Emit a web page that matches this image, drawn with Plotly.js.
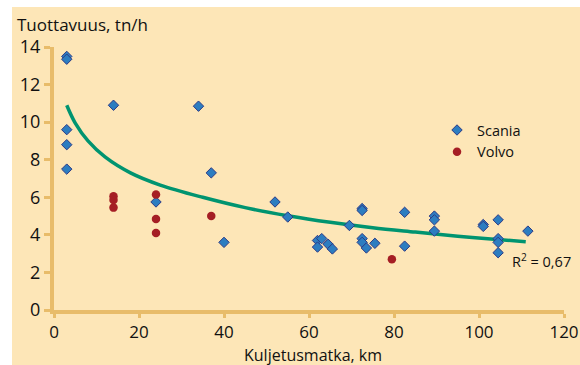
<!DOCTYPE html>
<html>
<head>
<meta charset="utf-8">
<script src="https://cdn.plot.ly/plotly-3.0.1.min.js"></script>
<style>
html,body{margin:0;padding:0;background:#fff;}
#chart{width:580px;height:365px;}
</style>
</head>
<body>
<div id="chart"></div>
<script>
// Scania (diamonds)
const scaniaX = [3, 3, 3, 3, 3, 14, 34, 37, 24, 40, 52, 55, 62, 63, 62, 64.5, 65.5, 69.5, 72.5, 72.5, 72.5, 72.5, 73.5, 75.5, 82.5, 82.5, 89.5, 89.5, 89.5, 101, 101, 104.5, 104.5, 104.5, 104.5, 111.5];
const scaniaY = [13.5, 13.35, 9.6, 8.8, 7.5, 10.9, 10.85, 7.3, 5.75, 3.6, 5.75, 4.95, 3.7, 3.8, 3.35, 3.5, 3.25, 4.5, 5.4, 5.3, 3.8, 3.6, 3.3, 3.55, 5.2, 3.4, 5.0, 4.8, 4.2, 4.55, 4.45, 4.8, 3.8, 3.6, 3.05, 4.2];
// Volvo (circles)
const volvoX = [14, 14, 14, 24, 24, 24, 37, 79.5];
const volvoY = [6.05, 5.85, 5.45, 6.15, 4.85, 4.1, 5.0, 2.7];
// Trend line
const trendX = [3, 5, 8, 12, 18, 25, 35, 45, 55, 65, 75, 85, 95, 105, 111];
const trendY = [10.9, 9.95, 9.0, 8.15, 7.3, 6.65, 6.0, 5.45, 5.02, 4.67, 4.38, 4.15, 3.93, 3.74, 3.63];
// Axis ticks
const xTicks = [0, 20, 40, 60, 80, 100, 120];
const yTicks = [0, 2, 4, 6, 8, 10, 12, 14];

const axisColor = '#E8BC6A';
const font = 'Open Sans, Noto Sans, sans-serif';

const traces = [
  {x: trendX, y: trendY, mode: 'lines', line: {color: '#009470', width: 3.5, shape: 'spline'}, showlegend: false, hoverinfo: 'skip'},
  {x: scaniaX, y: scaniaY, mode: 'markers', name: 'Scania',
   marker: {symbol: 'diamond', size: 8, color: '#2C7DC0', line: {color: '#2B3A87', width: 1}}},
  {x: volvoX, y: volvoY, mode: 'markers', name: 'Volvo',
   marker: {symbol: 'circle', size: 8.5, color: '#A51E24', line: {width: 0}}}
];

const layout = {
  width: 580, height: 365,
  margin: {l: 54, r: 16, t: 47, b: 55},
  paper_bgcolor: '#ffffff',
  plot_bgcolor: 'rgba(0,0,0,0)',
  font: {family: font, size: 17, color: '#111'},
  title: {text: 'Tuottavuus, tn/h', x: 17/580, xanchor: 'left', y: 1 - 25/365, yanchor: 'middle',
          font: {family: font, size: 17, color: '#111'}},
  xaxis: {range: [0, 120], tickvals: xTicks, ticktext: xTicks.map(String), showgrid: false, zeroline: false,
          showline: true, linecolor: axisColor, linewidth: 4, ticks: 'outside', ticklen: 4, tickwidth: 3, tickcolor: axisColor,
          tickfont: {family: font, size: 17, color: '#111'}},
  yaxis: {range: [0, 14], tickvals: yTicks, ticktext: yTicks.map(String), showgrid: false, zeroline: false,
          showline: true, linecolor: axisColor, linewidth: 4, ticks: 'outside', ticklen: 6, tickwidth: 3, tickcolor: axisColor,
          tickfont: {family: font, size: 18, color: '#111'}},
  legend: {x: 0.751, y: 0.745, xanchor: 'left', yanchor: 'top', bgcolor: 'rgba(0,0,0,0)',
           font: {family: font, size: 14.5, color: '#111'}, itemsizing: 'trace', tracegroupgap: 0},
  shapes: [{type: 'rect', xref: 'paper', yref: 'paper', x0: (12 - 54) / 510, x1: (580 - 54) / 510,
            y0: (310 - 365) / 263, y1: (310 - 7) / 263, fillcolor: '#FDE6B7', line: {width: 0}, layer: 'below'}],
  annotations: [
    {x: 107.3, y: 2.65, xref: 'x', yref: 'y', xanchor: 'left', yanchor: 'middle', showarrow: false,
     text: 'R<sup>2</sup> = 0,67', font: {family: font, size: 14.5, color: '#111'}},
    {x: (313 - 54) / 510, y: (310 - 354.5) / 263, xref: 'paper', yref: 'paper', xanchor: 'center', yanchor: 'middle', showarrow: false,
     text: 'Kuljetusmatka, km', font: {family: font, size: 16, color: '#111'}, borderpad: 0}
  ]
};

Plotly.newPlot('chart', traces, layout, {displayModeBar: false, staticPlot: true});
</script>
</body>
</html>
